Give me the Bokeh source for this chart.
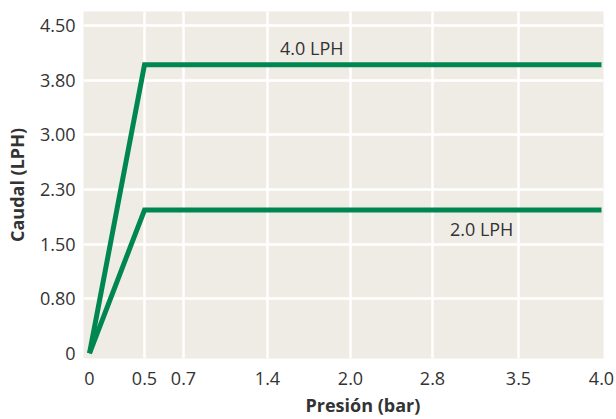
import numpy as np
from bokeh.plotting import figure
from bokeh.models import Range1d, FixedTicker, Title, ColumnDataSource
from bokeh.core.properties import value
from bokeh.embed import file_html
from bokeh.resources import INLINE

# ---- data ----
X_TICKS = [0, 0.5, 0.7, 1.4, 2.0, 2.8, 3.5, 4.0]
X_TICK_LABELS = ["0", "0.5", "0.7", "1.4", "2.0", "2.8", "3.5", "4.0"]
Y_TICKS = [0, 0.8, 1.5, 2.3, 3.0, 3.8, 4.5]
Y_TICK_LABELS = ["0", "0.80", "1.50", "2.30", "3.00", "3.80", "4.50"]

PRESSURE = [0, 0.5, 4.0]
FLOW_4LPH = [0, 4.0, 4.0]
FLOW_2LPH = [0, 2.0, 2.0]

SERIES_LABELS = ["4.0 LPH", "2.0 LPH"]
LABEL_PRESSURE = [1.72, 3.2]
LABEL_FLOW = [4.21, 1.72]

# display positions of the non-uniformly spaced ticks (both axes are piecewise)
X_DISPLAY = [6, 61, 100, 184, 267, 349, 435, 518]
Y_DISPLAY = [0, 1, 2, 3, 4, 5, 6]


def xmap(v):
    return [float(t) for t in np.interp(v, X_TICKS, X_DISPLAY)]


def ymap(v):
    return [float(t) for t in np.interp(v, Y_TICKS, Y_DISPLAY)]


FONT = "Open Sans"
FS = "18px"
TXT = "#333333"
GREEN = "#008751"

p = figure(width=616, height=419, output_backend="svg", toolbar_location=None,
           x_range=Range1d(0, 520), y_range=Range1d(-0.095, 6.26),
           min_border_left=83, min_border_right=13, min_border_top=11, min_border_bottom=59)
p.background_fill_color = "#efece6"
p.border_fill_color = "white"
p.outline_line_color = None

for ys in (FLOW_4LPH, FLOW_2LPH):
    p.line(xmap(PRESSURE), ymap(ys), line_color=GREEN, line_width=5, line_join="miter")

src = ColumnDataSource(dict(x=xmap(LABEL_PRESSURE), y=ymap(LABEL_FLOW), t=SERIES_LABELS))
p.text(x="x", y="y", text="t", source=src, text_font=value(FONT), text_font_size=FS,
       text_color=TXT, text_align="center", text_baseline="middle")

# axes
xpos = xmap(X_TICKS)
ypos = ymap(Y_TICKS)
p.xaxis.ticker = FixedTicker(ticks=xpos)
p.xaxis.major_label_overrides = {xp: lab for xp, lab in zip(xpos, X_TICK_LABELS)}
p.yaxis.ticker = FixedTicker(ticks=ypos)
p.yaxis.major_label_overrides = {yp: lab for yp, lab in zip(ypos, Y_TICK_LABELS)}

for ax in (p.xaxis, p.yaxis):
    ax.axis_line_color = None
    ax.major_tick_line_color = None
    ax.minor_tick_line_color = None
    ax.major_tick_out = 0
    ax.major_tick_in = 0
    ax.major_label_text_font = FONT
    ax.major_label_text_font_size = FS
    ax.major_label_text_color = TXT
    ax.axis_label_text_font = FONT
    ax.axis_label_text_font_style = "bold"
    ax.axis_label_text_font_size = FS
    ax.axis_label_text_color = TXT

p.yaxis.major_label_standoff = 8
p.yaxis.axis_label = "Caudal (LPH)"
p.yaxis.axis_label_standoff = 8
p.xaxis.major_label_standoff = 13

p.add_layout(Title(text="Presión (bar)", align="left", offset=222, text_font=FONT,
                   text_font_size=FS, text_font_style="bold", text_color=TXT,
                   standoff=6), "below")

p.xgrid.ticker = FixedTicker(ticks=xpos[1:-1])
p.ygrid.ticker = FixedTicker(ticks=ypos[1:])
for g in (p.xgrid, p.ygrid):
    g.grid_line_color = "white"
    g.grid_line_width = 2.5

open("out.html", "w").write(file_html(p, INLINE))
